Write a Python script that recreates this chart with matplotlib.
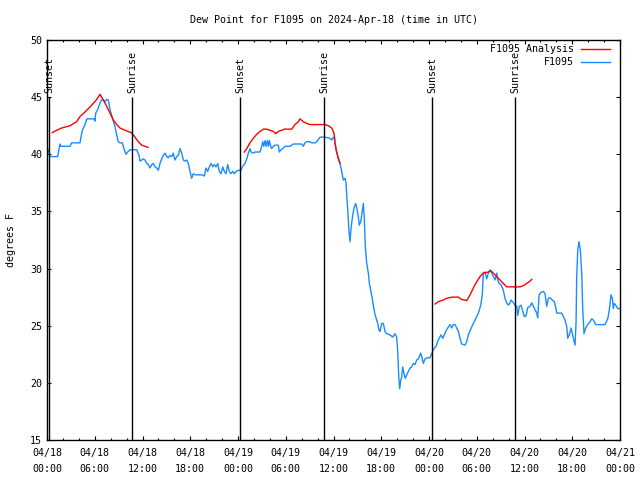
import numpy as np
import pandas as pd
import matplotlib
matplotlib.use("Agg")
import matplotlib.pyplot as plt
import matplotlib.dates as mdates

plt.rcParams['font.family'] = ['DejaVu Sans Mono']

start = pd.Timestamp("2024-04-18 00:00")

# observed dew point (hours since start, degrees F)
obs_hours = [0.16, 0.38, 1.34, 1.63, 1.76, 2.89, 3.10, 4.15, 4.27, 4.44, 4.78, 4.99, 5.94, 6.03, 6.12,
             6.37, 6.66, 6.87, 7.07, 7.29, 7.50, 7.70, 7.92, 8.13, 8.33, 8.55, 8.76, 8.96, 9.17, 9.46,
             9.71, 9.93, 10.14, 10.43, 11.27, 11.56, 11.69, 12.10, 12.31, 12.53, 12.73, 12.94, 13.16,
             13.36, 13.57, 13.79, 13.99, 14.20, 14.41, 14.61, 14.83, 15.04, 15.24, 15.46, 15.67, 15.87,
             16.08, 16.30, 16.50, 16.71, 16.93, 17.13, 17.34, 17.55, 17.76, 17.97, 18.18, 18.38, 18.60,
             19.44, 19.77, 19.98, 20.19, 20.40, 20.61, 20.82, 21.02, 21.24, 21.45, 21.65, 21.87, 22.08,
             22.28, 22.49, 22.71, 22.91, 23.12, 23.34, 23.54, 23.75, 24.04, 24.38, 24.54, 24.88, 25.10,
             25.30, 25.51, 25.64, 25.92, 26.14, 26.77, 26.98, 27.11, 27.23, 27.39, 27.52, 27.68, 27.81,
             27.93, 28.11, 28.24, 28.44, 28.65, 28.87, 29.07, 29.19, 29.41, 29.62, 29.91, 30.54, 30.75,
             30.95, 32.01, 32.21, 32.42, 32.63, 33.05, 33.26, 33.68, 33.89, 34.31, 34.93, 35.56, 35.78,
             35.98, 36.10, 36.19, 36.40, 36.61, 36.82, 37.03, 37.23, 37.45, 37.57, 37.66, 37.79, 37.95,
             38.08, 38.16, 38.29, 38.42, 38.58, 38.79, 38.99, 39.12, 39.24, 39.42, 39.55, 39.75, 39.87,
             40.00, 40.17, 40.38, 40.50, 40.68, 40.84, 41.00, 41.18, 41.38, 41.56, 41.72, 41.85, 42.06,
             42.26, 42.47, 42.69, 43.10, 43.44, 43.73, 43.94, 44.07, 44.20, 44.32, 44.45, 44.57, 44.70,
             44.86, 45.02, 45.20, 45.40, 45.62, 45.83, 46.03, 46.24, 46.46, 46.66, 46.96, 47.16, 47.29,
             47.50, 47.79, 48.13, 48.54, 48.88, 49.17, 49.51, 49.72, 49.93, 50.10, 50.35, 50.64, 50.86,
             51.06, 51.27, 51.48, 51.69, 51.90, 52.11, 52.53, 52.74, 52.94, 53.37, 53.78, 54.20, 54.50,
             54.70, 54.83, 55.04, 55.25, 55.46, 55.67, 55.88, 56.08, 56.30, 56.51, 56.64, 56.80, 57.05,
             57.34, 57.55, 57.76, 57.97, 58.18, 58.31, 58.60, 58.81, 59.02, 59.15, 59.35, 59.56, 59.73,
             59.98, 60.19, 60.41, 60.70, 60.91, 61.11, 61.32, 61.54, 61.66, 61.83, 62.04, 62.37, 62.58,
             62.79, 63.00, 63.21, 63.50, 63.75, 63.96, 64.05, 64.68, 64.88, 65.09, 65.31, 65.43, 65.63,
             65.85, 66.01, 66.19, 66.35, 66.48, 66.56, 66.69, 66.85, 67.02, 67.19, 67.32, 67.48, 67.69,
             67.95, 68.24, 68.45, 68.65, 68.95, 70.12, 70.46, 70.66, 70.87, 71.04, 71.16, 71.29, 71.46,
             71.71, 72.00]
obs_vals = [40.4, 39.8, 39.8, 40.9, 40.7, 40.7, 41.0, 41.0, 41.5, 42.1, 42.6, 43.1, 43.1, 42.9, 43.6,
            43.9, 44.5, 44.75, 44.8, 44.6, 44.8, 44.75, 43.9, 43.4, 42.9, 42.4, 41.7, 41.1, 41.0, 41.0,
            40.4, 40.0, 40.2, 40.4, 40.4, 39.9, 39.4, 39.6, 39.5, 39.2, 39.1, 38.8, 39.1,
            39.2, 38.9, 38.8, 38.6, 39.2, 39.6, 39.9, 40.1, 39.8, 39.7, 39.9, 39.8, 40.1,
            39.5, 39.8, 39.9, 40.5, 40.1, 39.5, 39.4, 39.5, 39.2, 38.5, 37.9, 38.3, 38.2,
            38.2, 38.1, 38.8, 38.5, 38.9, 39.2, 38.9, 39.1, 38.9, 39.2, 38.5, 38.3, 38.9,
            38.5, 38.3, 39.1, 38.5, 38.3, 38.5, 38.3, 38.5, 38.6, 38.6, 38.9, 39.2, 39.6,
            40.1, 40.5, 40.2, 40.1, 40.2, 40.2, 40.7, 41.1, 40.7, 41.2, 40.7, 41.2, 40.7,
            41.2, 40.7, 40.5, 40.7, 40.8, 40.8, 40.8, 40.2, 40.4, 40.5, 40.7, 40.7, 40.8,
            40.9, 40.9, 40.7, 41.0, 41.1, 41.1, 41.0, 41.0, 41.1, 41.5, 41.5, 41.4, 41.25,
            41.5, 41.4, 41.0, 40.2, 39.6, 39.2, 38.5, 37.75, 37.9, 37.5, 36.4, 35.1, 33.2,
            32.35, 33.2, 34.0, 34.7, 35.3, 35.7, 35.1, 34.5, 33.8, 34.1, 34.7, 35.7, 34.4,
            31.9, 30.5, 29.6, 28.7, 28.1, 27.5, 26.8, 26.1, 25.6, 25.2, 24.6, 24.5, 25.2,
            25.2, 24.5, 24.3, 24.2, 24.0, 24.3, 24.0, 22.7, 20.5, 19.5, 20.25, 20.5, 21.4,
            20.8, 20.4, 20.7, 21.0, 21.3, 21.4, 21.7, 21.6, 22.0, 22.1, 22.6, 22.1, 21.7,
            22.1, 22.2, 22.2, 22.9, 23.2, 23.75, 24.2, 23.9, 24.2, 24.5, 24.8, 25.1, 24.8,
            25.1, 25.1, 24.8, 24.5, 23.9, 23.4, 23.3, 23.6, 24.2, 24.9, 25.5, 26.1, 26.8,
            27.7, 29.6, 29.7, 29.1, 29.6, 29.9, 29.6, 29.3, 29.0, 29.6, 29.0, 28.7, 28.6,
            28.1, 27.4, 27.0, 26.8, 27.0, 27.25, 27.0, 26.8, 26.7, 25.9, 26.7, 26.8, 26.4,
            25.8, 25.85, 26.6, 26.7, 27.0, 26.7, 26.4, 26.1, 25.7, 27.7, 27.9, 28.0, 27.8,
            26.7, 27.4, 27.45, 27.25, 27.1, 26.5, 26.1, 26.1, 25.8, 25.5, 24.9, 23.9, 24.2,
            24.8, 24.3, 23.75, 23.3, 25.35, 29.3, 31.6, 32.35, 31.6, 29.6, 26.4, 24.3, 24.8,
            25.1, 25.35, 25.6, 25.5, 25.1, 25.1, 25.6, 26.4, 27.7, 27.4, 26.5, 26.95, 26.8,
            26.5, 26.5]

# analysis dew point, three separate runs
ana1_hours = [0.67, 1.22, 1.85, 2.89, 3.73, 4.15, 4.78, 5.62, 6.25, 6.66, 7.07, 7.50, 7.92, 8.33,
              8.76, 9.17, 9.80, 10.56, 10.84, 11.47, 11.90, 12.31, 12.69]
ana1_vals = [41.9, 42.1, 42.3, 42.5, 42.85, 43.3, 43.7, 44.3, 44.8, 45.25, 44.75, 44.2, 43.6, 43.0,
             42.6, 42.3, 42.1, 41.9, 41.7, 41.1, 40.8, 40.7, 40.6]
ana2_hours = [24.79, 25.10, 25.51, 25.92, 26.35, 26.77, 27.18, 27.61, 28.02, 28.44, 28.74, 29.07,
              29.49, 29.82, 30.32, 30.75, 31.16, 31.58, 31.79, 32.21, 32.63, 33.05, 34.31, 34.93,
              35.35, 35.78, 35.98, 36.10, 36.19, 36.32, 36.61, 36.82]
ana2_vals = [40.2, 40.5, 41.0, 41.4, 41.75, 42.0, 42.2, 42.2, 42.1, 42.0, 41.8, 42.0,
             42.1, 42.2, 42.2, 42.2, 42.6, 42.85, 43.1, 42.85, 42.7, 42.6, 42.6, 42.6,
             42.5, 42.3, 42.0, 41.7, 41.0, 40.4, 39.65, 39.2]
ana3_hours = [48.76, 49.17, 49.80, 50.23, 50.86, 51.69, 52.11, 52.74, 53.16, 53.78, 54.41, 54.83,
              55.46, 55.79, 56.08, 56.51, 56.92, 57.34, 57.76, 58.18, 58.81, 59.44, 59.85, 60.28,
              60.70, 60.91]
ana3_vals = [26.9, 27.1, 27.25, 27.4, 27.5, 27.5, 27.3, 27.2, 27.7, 28.6, 29.3, 29.6,
             29.7, 29.8, 29.6, 29.3, 29.0, 28.7, 28.4, 28.4, 28.4, 28.4, 28.5, 28.7,
             28.9, 29.05]

sun_hours = [0.29, 10.72, 24.29, 34.85, 48.42, 58.85]
sun_labels = ["Sunset", "Sunrise", "Sunset", "Sunrise", "Sunset", "Sunrise"]


def to_time(hours):
    return start + pd.to_timedelta(np.array(hours), unit="h")


red = "#ff0000"
blue = "#1a8cff"

fig = plt.figure(figsize=(6.4, 4.8), dpi=100)
ax = fig.add_axes([47 / 640, 40 / 480, 573 / 640, 400 / 480])

for h, v in [(ana1_hours, ana1_vals), (ana2_hours, ana2_vals), (ana3_hours, ana3_vals)]:
    ax.plot(to_time(h), v, color=red, lw=1, zorder=3)
ax.plot(to_time(obs_hours), obs_vals, color=blue, lw=1, zorder=2)

# sunrise / sunset markers
for t, lab in zip(to_time(sun_hours), sun_labels):
    ax.vlines(t, 15, 45, color="black", lw=1, zorder=4)
    ax.text(t, 45.4, lab, rotation=90, ha="center", va="bottom", fontsize=7.2)

ax.set_xlim(start, start + pd.Timedelta(hours=72))
ax.set_ylim(15, 50)
ax.set_yticks(np.arange(15, 51, 5))
ax.xaxis.set_major_locator(mdates.HourLocator(byhour=[0, 6, 12, 18]))
ax.xaxis.set_minor_locator(mdates.HourLocator(byhour=range(0, 24, 2)))
ax.xaxis.set_major_formatter(mdates.DateFormatter("%m/%d\n%H:%M"))
ax.tick_params(which="both", direction="in", top=True, right=True, labelsize=7.2, width=0.8)
ax.tick_params(which="major", length=3)
ax.tick_params(which="minor", length=1.6)
ax.tick_params(axis="x", pad=5.5)
for lab in ax.get_xticklabels():
    lab.set_linespacing(1.75)
for s in ax.spines.values():
    s.set_linewidth(1)

ax.set_ylabel("degrees F", fontsize=7.2, labelpad=10)
ax.set_title("Dew Point for F1095 on 2024-Apr-18 (time in UTC)", fontsize=7.2, pad=12)

# legend, gnuplot style (text right-aligned, sample on the right)
legend_rows = [("F1095 Analysis", red, 0.9768), ("F1095", blue, 0.944)]
for txt, col, yy in legend_rows:
    ax.text(0.9197, yy, txt, transform=ax.transAxes, ha="right", va="center", fontsize=7.2)
    ax.plot([0.9319, 0.9825], [yy, yy], transform=ax.transAxes, color=col, lw=1)

fig.savefig("out.png", dpi=100)
